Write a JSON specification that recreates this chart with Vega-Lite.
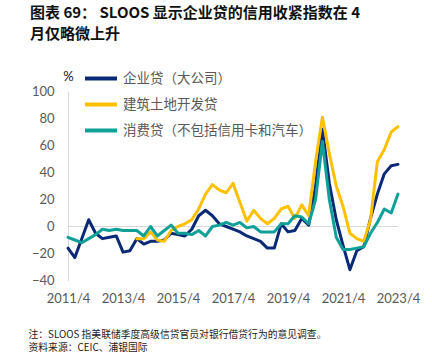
{
  "$schema": "https://vega.github.io/schema/vega-lite/v6.json",
  "autosize": "none",
  "width": 330,
  "height": 189,
  "padding": {"left": 68, "top": 91.5, "right": 34, "bottom": 71.5},
  "background": "white",
  "title": {
    "text": ["图表 69：  SLOOS 显示企业贷的信用收紧指数在 4", "月仅略微上升"],
    "anchor": "start",
    "frame": "group",
    "font": "Noto Sans CJK SC",
    "fontSize": 15,
    "fontWeight": "bold",
    "color": "#111111",
    "lineHeight": 21,
    "dx": -38,
    "offset": 19
  },
  "config": {
    "view": {"stroke": null},
    "font": "Lato",
    "axisY": {
      "values": [-40, -20, 0, 20, 40, 60, 80, 100],
      "domain": true,
      "domainColor": "#D9D9D9",
      "domainWidth": 1,
      "ticks": false,
      "grid": false,
      "labelOverlap": false,
      "labelPadding": 14,
      "labelFont": "Lato",
      "labelFontSize": 13,
      "labelColor": "#595959",
      "titleAngle": 0,
      "titleAlign": "center",
      "titleBaseline": "middle",
      "titleX": 0,
      "titleY": -15.5,
      "titleFont": "Lato",
      "titleFontSize": 13,
      "titleFontWeight": "normal",
      "titleColor": "#111111"
    }
  },
  "data": {
    "values": [
      {"date": "2011-04-01", "企业贷（大公司）": -16, "建筑土地开发贷": null, "消费贷（不包括信用卡和汽车）": -8},
      {"date": "2011-07-01", "企业贷（大公司）": -23, "建筑土地开发贷": null, "消费贷（不包括信用卡和汽车）": -10},
      {"date": "2011-10-01", "企业贷（大公司）": -9, "建筑土地开发贷": null, "消费贷（不包括信用卡和汽车）": -12},
      {"date": "2012-01-01", "企业贷（大公司）": 5, "建筑土地开发贷": null, "消费贷（不包括信用卡和汽车）": -9},
      {"date": "2012-04-01", "企业贷（大公司）": -5, "建筑土地开发贷": null, "消费贷（不包括信用卡和汽车）": -6},
      {"date": "2012-07-01", "企业贷（大公司）": -9, "建筑土地开发贷": null, "消费贷（不包括信用卡和汽车）": -2},
      {"date": "2012-10-01", "企业贷（大公司）": -8, "建筑土地开发贷": null, "消费贷（不包括信用卡和汽车）": -3},
      {"date": "2013-01-01", "企业贷（大公司）": -7, "建筑土地开发贷": null, "消费贷（不包括信用卡和汽车）": -2},
      {"date": "2013-04-01", "企业贷（大公司）": -19, "建筑土地开发贷": null, "消费贷（不包括信用卡和汽车）": -3},
      {"date": "2013-07-01", "企业贷（大公司）": -18, "建筑土地开发贷": null, "消费贷（不包括信用卡和汽车）": -3},
      {"date": "2013-10-01", "企业贷（大公司）": -9, "建筑土地开发贷": -9, "消费贷（不包括信用卡和汽车）": -3},
      {"date": "2014-01-01", "企业贷（大公司）": -13, "建筑土地开发贷": -9, "消费贷（不包括信用卡和汽车）": -7},
      {"date": "2014-04-01", "企业贷（大公司）": -11, "建筑土地开发贷": -4, "消费贷（不包括信用卡和汽车）": 0},
      {"date": "2014-07-01", "企业贷（大公司）": -11, "建筑土地开发贷": -10, "消费贷（不包括信用卡和汽车）": -7},
      {"date": "2014-10-01", "企业贷（大公司）": -10, "建筑土地开发贷": -11, "消费贷（不包括信用卡和汽车）": -3},
      {"date": "2015-01-01", "企业贷（大公司）": -5, "建筑土地开发贷": -3, "消费贷（不包括信用卡和汽车）": 1},
      {"date": "2015-04-01", "企业贷（大公司）": -6, "建筑土地开发贷": 0, "消费贷（不包括信用卡和汽车）": -5},
      {"date": "2015-07-01", "企业贷（大公司）": -7, "建筑土地开发贷": 2, "消费贷（不包括信用卡和汽车）": -5},
      {"date": "2015-10-01", "企业贷（大公司）": -2, "建筑土地开发贷": 5, "消费贷（不包括信用卡和汽车）": -6},
      {"date": "2016-01-01", "企业贷（大公司）": 8, "建筑土地开发贷": 13, "消费贷（不包括信用卡和汽车）": -3},
      {"date": "2016-04-01", "企业贷（大公司）": 12, "建筑土地开发贷": 24, "消费贷（不包括信用卡和汽车）": -7},
      {"date": "2016-07-01", "企业贷（大公司）": 8, "建筑土地开发贷": 31, "消费贷（不包括信用卡和汽车）": 0},
      {"date": "2016-10-01", "企业贷（大公司）": 2, "建筑土地开发贷": 27, "消费贷（不包括信用卡和汽车）": 1},
      {"date": "2017-01-01", "企业贷（大公司）": 0, "建筑土地开发贷": 25, "消费贷（不包括信用卡和汽车）": 3},
      {"date": "2017-04-01", "企业贷（大公司）": -2, "建筑土地开发贷": 32, "消费贷（不包括信用卡和汽车）": 1},
      {"date": "2017-07-01", "企业贷（大公司）": -4, "建筑土地开发贷": 18, "消费贷（不包括信用卡和汽车）": 3},
      {"date": "2017-10-01", "企业贷（大公司）": -7, "建筑土地开发贷": 4, "消费贷（不包括信用卡和汽车）": -1},
      {"date": "2018-01-01", "企业贷（大公司）": -9, "建筑土地开发贷": 12, "消费贷（不包括信用卡和汽车）": 0},
      {"date": "2018-04-01", "企业贷（大公司）": -11, "建筑土地开发贷": 6, "消费贷（不包括信用卡和汽车）": -4},
      {"date": "2018-07-01", "企业贷（大公司）": -16, "建筑土地开发贷": 2, "消费贷（不包括信用卡和汽车）": -4},
      {"date": "2018-10-01", "企业贷（大公司）": -16, "建筑土地开发贷": 6, "消费贷（不包括信用卡和汽车）": -4},
      {"date": "2019-01-01", "企业贷（大公司）": 2, "建筑土地开发贷": 13, "消费贷（不包括信用卡和汽车）": 2},
      {"date": "2019-04-01", "企业贷（大公司）": -4, "建筑土地开发贷": 15, "消费贷（不包括信用卡和汽车）": 2},
      {"date": "2019-07-01", "企业贷（大公司）": -3, "建筑土地开发贷": 6, "消费贷（不包括信用卡和汽车）": 8},
      {"date": "2019-10-01", "企业贷（大公司）": 6, "建筑土地开发贷": 16, "消费贷（不包括信用卡和汽车）": 7},
      {"date": "2020-01-01", "企业贷（大公司）": 1, "建筑土地开发贷": 8, "消费贷（不包括信用卡和汽车）": 2},
      {"date": "2020-04-01", "企业贷（大公司）": 30, "建筑土地开发贷": 48, "消费贷（不包括信用卡和汽车）": 20},
      {"date": "2020-07-01", "企业贷（大公司）": 72, "建筑土地开发贷": 81, "消费贷（不包括信用卡和汽车）": 63},
      {"date": "2020-10-01", "企业贷（大公司）": 32, "建筑土地开发贷": 54, "消费贷（不包括信用卡和汽车）": 20},
      {"date": "2021-01-01", "企业贷（大公司）": 5, "建筑土地开发贷": 30, "消费贷（不包括信用卡和汽车）": -8},
      {"date": "2021-04-01", "企业贷（大公司）": -14, "建筑土地开发贷": 15, "消费贷（不包括信用卡和汽车）": -17},
      {"date": "2021-07-01", "企业贷（大公司）": -32, "建筑土地开发贷": -5, "消费贷（不包括信用卡和汽车）": -17},
      {"date": "2021-10-01", "企业贷（大公司）": -18, "建筑土地开发贷": -9, "消费贷（不包括信用卡和汽车）": -16},
      {"date": "2022-01-01", "企业贷（大公司）": -15, "建筑土地开发贷": -11, "消费贷（不包括信用卡和汽车）": -15},
      {"date": "2022-04-01", "企业贷（大公司）": 6, "建筑土地开发贷": 5, "消费贷（不包括信用卡和汽车）": -5},
      {"date": "2022-07-01", "企业贷（大公司）": 24, "建筑土地开发贷": 48, "消费贷（不包括信用卡和汽车）": 3},
      {"date": "2022-10-01", "企业贷（大公司）": 39, "建筑土地开发贷": 57, "消费贷（不包括信用卡和汽车）": 13},
      {"date": "2023-01-01", "企业贷（大公司）": 45, "建筑土地开发贷": 70, "消费贷（不包括信用卡和汽车）": 10},
      {"date": "2023-04-01", "企业贷（大公司）": 46, "建筑土地开发贷": 74, "消费贷（不包括信用卡和汽车）": 24}
    ]
  },
  "transform": [
    {"fold": ["企业贷（大公司）", "建筑土地开发贷", "消费贷（不包括信用卡和汽车）"], "as": ["series", "value"]}
  ],
  "layer": [
    {
      "mark": {"type": "rule", "color": "#D9D9D9", "strokeWidth": 1},
      "encoding": {"y": {"datum": 0, "type": "quantitative", "scale": {"domain": [-40, 100], "nice": false, "zero": false}, "title": "%"}}
    },
    {
      "mark": {"type": "line", "strokeWidth": 3, "strokeJoin": "round", "strokeCap": "round"},
      "encoding": {
        "x": {
          "field": "date",
          "type": "temporal",
          "scale": {"type": "utc", "domain": [{"year": 2011, "month": 4, "date": 1, "utc": true}, {"year": 2023, "month": 4, "date": 1, "utc": true}], "nice": false},
          "axis": {
            "values": [
              {"year": 2011, "month": 4, "date": 1, "utc": true},
              {"year": 2013, "month": 4, "date": 1, "utc": true},
              {"year": 2015, "month": 4, "date": 1, "utc": true},
              {"year": 2017, "month": 4, "date": 1, "utc": true},
              {"year": 2019, "month": 4, "date": 1, "utc": true},
              {"year": 2021, "month": 4, "date": 1, "utc": true},
              {"year": 2023, "month": 4, "date": 1, "utc": true}
            ],
            "format": "%Y/%-m",
            "domain": false,
            "ticks": false,
            "grid": false,
            "labelFlush": false,
            "labelOverlap": false,
            "labelPadding": 12,
            "labelFont": "Lato",
            "labelFontSize": 13,
            "labelColor": "#595959",
            "title": ["注：SLOOS 指美联储季度高级信贷官员对银行借贷行为的意见调查。", "资料来源：CEIC、浦银国际"],
            "titleFont": "Noto Sans CJK SC",
            "titleFontSize": 9.8,
            "titleFontWeight": "normal",
            "titleColor": "#222222",
            "titleAnchor": "start",
            "titleAlign": "left",
            "titleBaseline": "top",
            "titleX": -40,
            "titleY": 49,
            "titleLineHeight": 12.5
          }
        },
        "y": {
          "field": "value",
          "type": "quantitative",
          "scale": {"domain": [-40, 100], "nice": false, "zero": false},
          "title": "%"
        },
        "color": {
          "field": "series",
          "type": "nominal",
          "scale": {
            "domain": ["企业贷（大公司）", "建筑土地开发贷", "消费贷（不包括信用卡和汽车）"],
            "range": ["#0A2A78", "#FFC000", "#10A098"]
          },
          "legend": {
            "orient": "none",
            "legendX": 15,
            "legendY": -31,
            "title": null,
            "symbolType": "stroke",
            "symbolSize": 1024,
            "symbolStrokeWidth": 4,
            "labelFont": "Noto Sans CJK SC",
            "labelFontSize": 13.5,
            "labelColor": "#595959",
            "labelOffset": 4,
            "rowPadding": -14,
            "padding": 0,
            "labelLimit": 400
          }
        }
      }
    }
  ]
}
